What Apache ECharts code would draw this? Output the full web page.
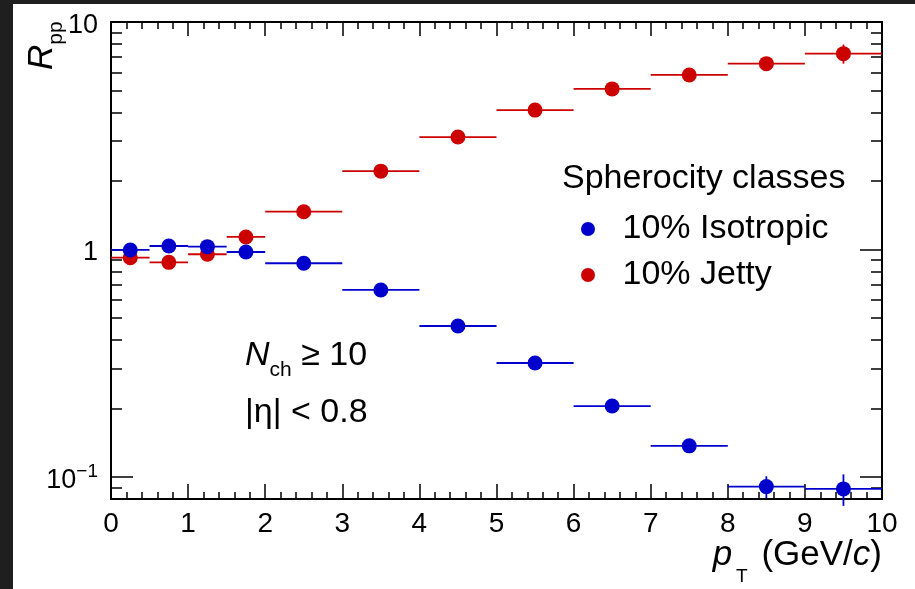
<!DOCTYPE html>
<html>
<head>
<meta charset="utf-8">
<script src="https://cdn.jsdelivr.net/npm/echarts@6/dist/echarts.min.js"></script>
<style>
  html, body { margin: 0; padding: 0; background: #ffffff; }
  #leftStrip { position: absolute; left: 0; top: 0; width: 13px; height: 589px; background: #1f1f1f; }
  #topStrip { position: absolute; left: 0; top: 0; width: 915px; height: 4px; background: #1f1f1f; }
  #chart { position: absolute; left: 0; top: 0; width: 915px; height: 589px; }
</style>
</head>
<body>
<div id="leftStrip"></div>
<div id="topStrip"></div>
<div id="chart"></div>
<script>
const FONT = 'Liberation Sans';
const RED = '#cc0000';
const BLUE = '#0000cc';

// pT bins (GeV/c)
const binLow = [0, 0.5, 1, 1.5, 2, 3, 4, 5, 6, 7, 8, 9];
const binHigh = [0.5, 1, 1.5, 2, 3, 4, 5, 6, 7, 8, 9, 10];
const ptCenter = [0.25, 0.75, 1.25, 1.75, 2.5, 3.5, 4.5, 5.5, 6.5, 7.5, 8.5, 9.5];

// R_pp per spherocity class
const isotropicRpp = [0.995, 1.036, 1.029, 0.975, 0.87, 0.664, 0.461, 0.317, 0.205, 0.137, 0.0907, 0.0886];
const isotropicErr = [0.01, 0.01, 0.01, 0.01, 0.008, 0.006, 0.005, 0.004, 0.004, 0.004, 0.010, 0.014];
const jettyRpp = [0.92, 0.878, 0.953, 1.135, 1.466, 2.21, 3.12, 4.10, 5.08, 5.85, 6.56, 7.26];
const jettyErr = [0.01, 0.01, 0.01, 0.02, 0.02, 0.03, 0.05, 0.08, 0.12, 0.2, 0.3, 0.7];

// axis ticks
const yMajorTicks = [0.1, 1, 10];
const yTickLabels = ['{b|10}{e|\u22121}', '{p|1}', '{p|10}'];
const yMinorTicks = [0.08, 0.09, 0.2, 0.3, 0.4, 0.5, 0.6, 0.7, 0.8, 0.9, 2, 3, 4, 5, 6, 7, 8, 9];

function errRows(values, errs) {
  return ptCenter.map((x, i) => [x, values[i], binLow[i], binHigh[i], values[i] - errs[i], values[i] + errs[i]]);
}

function errorBarSeries(name, values, errs, color) {
  return {
    name: name,
    type: 'custom',
    data: errRows(values, errs),
    encode: { x: 0, y: 1 },
    silent: true,
    renderItem: function (params, api) {
      const y = api.value(1);
      const x = api.value(0);
      const a = api.coord([api.value(2), y]);
      const b = api.coord([api.value(3), y]);
      const c = api.coord([x, api.value(4)]);
      const d = api.coord([x, api.value(5)]);
      const style = { stroke: color, lineWidth: 1.8 };
      return {
        type: 'group',
        children: [
          { type: 'line', shape: { x1: a[0], y1: a[1], x2: b[0], y2: b[1] }, style: style },
          { type: 'line', shape: { x1: c[0], y1: c[1], x2: d[0], y2: d[1] }, style: style }
        ]
      };
    }
  };
}

function markerSeries(name, values, color) {
  return {
    name: name,
    type: 'scatter',
    symbol: 'circle',
    symbolSize: 15,
    itemStyle: { color: color, opacity: 1 },
    data: ptCenter.map((x, i) => [x, values[i]])
  };
}

const axisLine = { show: true, onZero: false, lineStyle: { color: '#000', width: 2 } };

function yAxisOf(position, ticks, len, showLabel) {
  return {
    type: 'log',
    logBase: 10,
    min: 0.08,
    max: 10,
    position: position,
    axisLine: axisLine,
    axisTick: { show: true, inside: true, length: len, customValues: ticks, lineStyle: { color: '#000', width: 1.5 } },
    axisLabel: {
      show: showLabel,
      customValues: yMajorTicks,
      margin: 13,
      color: '#000',
      fontFamily: FONT,
      fontSize: 27,
      formatter: function (v) {
        const e = Math.round(Math.log10(v));
        return yTickLabels[yMajorTicks.findIndex(t => Math.round(Math.log10(t)) === e)];
      },
      rich: {
        p: { fontFamily: FONT, fontSize: 27, color: '#000', padding: [7, 0, 0, 0] },
        b: { fontFamily: FONT, fontSize: 27, color: '#000', lineHeight: 34, verticalAlign: 'bottom' },
        e: { fontFamily: FONT, fontSize: 19, color: '#000', lineHeight: 34, verticalAlign: 'top', padding: [2, 0, 0, 0] }
      }
    },
    splitLine: { show: false }
  };
}

function xAxisOf(position, majorLen, minorLen, showLabel) {
  return {
    type: 'value',
    min: 0,
    max: 10,
    interval: 1,
    position: position,
    axisLine: axisLine,
    axisTick: { show: true, inside: true, length: majorLen, lineStyle: { color: '#000', width: 1.5 } },
    minorTick: { show: true, splitNumber: 5, length: minorLen, lineStyle: { color: '#000', width: 1.5 } },
    axisLabel: { show: showLabel, margin: 11, color: '#000', fontFamily: FONT, fontSize: 28 },
    splitLine: { show: false },
    minorSplitLine: { show: false }
  };
}

const chart = echarts.init(document.getElementById('chart'), null, { renderer: 'canvas' });

chart.setOption({
  backgroundColor: 'transparent',
  animation: false,
  grid: { left: 111, top: 22, width: 771, height: 477, containLabel: false },
  xAxis: [
    xAxisOf('bottom', 15, 7, true),
    xAxisOf('top', 14, 7, false)
  ],
  yAxis: [
    yAxisOf('left', yMajorTicks, 22, true),
    yAxisOf('left', yMinorTicks, 11, false),
    yAxisOf('right', yMajorTicks, 22, false),
    yAxisOf('right', yMinorTicks, 11, false)
  ],
  legend: {
    data: ['10% Isotropic', '10% Jetty'],
    orient: 'vertical',
    left: 576,
    top: 206,
    itemWidth: 59,
    itemHeight: 14,
    itemGap: 10,
    selectedMode: false,
    icon: 'circle',
    textStyle: { fontFamily: FONT, fontSize: 34, lineHeight: 36, color: '#000' }
  },
  graphic: [
    {
      type: 'text', left: 562, top: 162,
      style: { text: 'Spherocity classes', fontFamily: FONT, fontSize: 34, fill: '#000' }
    },
    {
      type: 'text', x: 245, y: 356,
      style: {
        text: '{i|N}{s|ch}{n| \u2265 10}',
        verticalAlign: 'middle',
        rich: {
          i: { fontFamily: FONT, fontStyle: 'italic', fontSize: 34, fill: '#000', lineHeight: 50, verticalAlign: 'middle' },
          s: { fontFamily: FONT, fontSize: 21, fill: '#000', lineHeight: 50, verticalAlign: 'bottom' },
          n: { fontFamily: FONT, fontSize: 34, fill: '#000', lineHeight: 50, verticalAlign: 'middle' }
        }
      }
    },
    {
      type: 'text', x: 245, y: 413,
      style: { text: '|\u03b7| < 0.8', verticalAlign: 'middle', fontFamily: FONT, fontSize: 34, fill: '#000' }
    },
    {
      type: 'text', x: 882, y: 555,
      style: {
        text: '{i|p}{s|T}{n| (GeV/}{i|c}{n|)}',
        align: 'right',
        verticalAlign: 'middle',
        rich: {
          i: { fontFamily: FONT, fontStyle: 'italic', fontSize: 35, fill: '#000', lineHeight: 62, verticalAlign: 'middle' },
          s: { fontFamily: FONT, fontSize: 19, fill: '#000', lineHeight: 62, verticalAlign: 'bottom', padding: [0, 4, 0, 4] },
          n: { fontFamily: FONT, fontSize: 35, fill: '#000', lineHeight: 62, verticalAlign: 'middle' }
        }
      }
    },
    {
      type: 'text', x: 42, y: 70, rotation: Math.PI / 2,
      style: {
        text: '{i|R}{s|pp}',
        align: 'left',
        verticalAlign: 'middle',
        rich: {
          i: { fontFamily: FONT, fontStyle: 'italic', fontSize: 35, fill: '#000', lineHeight: 50, verticalAlign: 'middle' },
          s: { fontFamily: FONT, fontSize: 21, fill: '#000', lineHeight: 50, verticalAlign: 'bottom' }
        }
      }
    }
  ],
  series: [
    errorBarSeries('jettyErrors', jettyRpp, jettyErr, RED),
    markerSeries('10% Jetty', jettyRpp, RED),
    errorBarSeries('isotropicErrors', isotropicRpp, isotropicErr, BLUE),
    markerSeries('10% Isotropic', isotropicRpp, BLUE)
  ]
});
</script>
</body>
</html>
